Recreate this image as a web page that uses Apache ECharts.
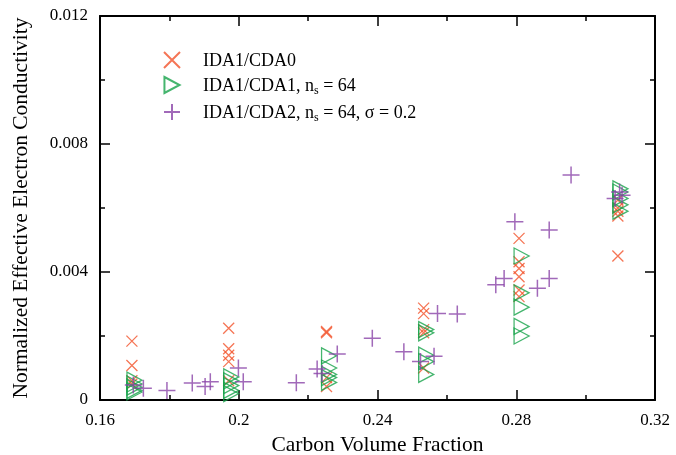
<!DOCTYPE html>
<html>
<head>
<meta charset="utf-8">
<script src="https://cdn.jsdelivr.net/npm/echarts@6/dist/echarts.min.js"></script>
<style>
  html, body { margin: 0; padding: 0; background: #fff; }
  #main { width: 676px; height: 455px; }
</style>
</head>
<body>
<div id="main"></div>
<script>
// series names as shown in the legend
var names = ['IDA1/CDA0', 'IDA1/CDA1, ns = 64', 'IDA1/CDA2, ns = 64, σ = 0.2'];

// IDA1/CDA0 (crosses)
var cda0X = [0.1692, 0.1692, 0.1692, 0.1692,
             0.1971, 0.1971, 0.1971, 0.1971, 0.1971,
             0.2253, 0.2253, 0.2253, 0.2253,
             0.2533, 0.2533, 0.2533, 0.2533, 0.2533,
             0.2808, 0.2808, 0.2808, 0.2808, 0.2808, 0.2808,
             0.3093, 0.3093, 0.3093, 0.3093, 0.3093];
var cda0Y = [0.00184, 0.00108, 0.0006, 0.0005,
             0.00224, 0.0016, 0.0014, 0.0012, 0.0006,
             0.00214, 0.0021, 0.0007, 0.00042,
             0.00287, 0.0027, 0.0022, 0.0021, 0.001,
             0.00505, 0.00432, 0.00411, 0.00385, 0.00344, 0.00323,
             0.00625, 0.006, 0.0059, 0.00575, 0.0045];

// IDA1/CDA1 (triangles)
var cda1X = [0.1692, 0.1692, 0.1692, 0.1692, 0.1692,
             0.1971, 0.1971, 0.1971, 0.1971, 0.1971,
             0.2253, 0.2253, 0.2253, 0.2253, 0.2253,
             0.2533, 0.2533, 0.2533, 0.2533, 0.2533,
             0.2808, 0.2808, 0.2808, 0.2808, 0.2808,
             0.3093, 0.3093, 0.3093, 0.3093, 0.3093];
var cda1Y = [0.00062, 0.0005, 0.0004, 0.0003, 0.00025,
             0.00072, 0.0006, 0.00045, 0.0003, 0.0002,
             0.00138, 0.001, 0.0008, 0.0007, 0.00055,
             0.0022, 0.0021, 0.0014, 0.0012, 0.0008,
             0.0045, 0.00335, 0.0029, 0.0023, 0.002,
             0.0066, 0.0065, 0.0063, 0.0061, 0.0059];

// IDA1/CDA2 (pluses)
var cda2X = [0.1696, 0.1725, 0.1793, 0.1866, 0.1903, 0.1918, 0.1999, 0.2013,
             0.2166, 0.2226, 0.224, 0.2284, 0.2385,
             0.2476, 0.2524, 0.2563, 0.2573, 0.263,
             0.2741, 0.2765, 0.2796, 0.2861, 0.2895, 0.2895, 0.2958,
             0.3085, 0.3098, 0.3105];
var cda2Y = [0.00047, 0.00037, 0.0003, 0.00053, 0.00042, 0.00057, 0.001, 0.00057,
             0.00054, 0.00097, 0.00083, 0.00144, 0.00193,
             0.00151, 0.0012, 0.00137, 0.0027, 0.00269,
             0.0036, 0.0038, 0.00557, 0.00349, 0.0038, 0.00531, 0.00703,
             0.0063, 0.0065, 0.0064];

var xTicks = [0.16, 0.2, 0.24, 0.28, 0.32];
var yTicks = [0, 0.004, 0.008, 0.012];

function zip(xs, ys) {
  var out = [];
  for (var i = 0; i < xs.length; i++) out.push([xs[i], ys[i]]);
  return out;
}

var font = '"Liberation Serif", "Times New Roman", serif';
var crossPath = 'path://M0,0L10,10M10,0L0,10';
var triPath = 'path://M0,0L10,5.3L0,10.6Z';
var plusPath = 'path://M5,0L5,10M0,5L10,5';

var myChart = echarts.init(document.getElementById('main'));

var axisCommon = {
  type: 'value',
  axisLine: { show: true, onZero: false, lineStyle: { color: '#000', width: 2 } },
  axisTick: { show: true, inside: true, length: 10, lineStyle: { color: '#000', width: 1.5 } },
  minorTick: { show: true, splitNumber: 2, length: 5, lineStyle: { color: '#000', width: 1.5 } },
  splitLine: { show: false },
  axisLabel: { color: '#000', fontFamily: font, fontSize: 17, margin: 12 }
};

var option = {
  backgroundColor: '#fff',
  animation: false,
  grid: { left: 100, right: 21, top: 16, bottom: 55, containLabel: false, outerBoundsMode: 'none' },
  legend: {
    orient: 'vertical',
    left: 158,
    top: 46,
    itemGap: 6,
    itemWidth: 16,
    itemHeight: 16,
    data: names,
    formatter: function (name) {
      if (name === names[1]) return 'IDA1/CDA1, n{sub|s} = 64';
      if (name === names[2]) return 'IDA1/CDA2, n{sub|s} = 64, σ = 0.2';
      return name;
    },
    textStyle: {
      color: '#000', fontFamily: font, fontSize: 18, padding: [2, 0, 0, 18],
      rich: {
        sub: { fontFamily: font, fontSize: 12, color: '#000', verticalAlign: 'bottom', padding: [10, 0, 0, 0] }
      }
    }
  },
  xAxis: [
    Object.assign({}, axisCommon, {
      min: 0.16, max: 0.32, interval: 0.04,
      position: 'bottom',
      name: 'Carbon Volume Fraction',
      nameLocation: 'middle',
      nameGap: 31,
      nameTextStyle: { color: '#000', fontFamily: font, fontSize: 21.5 },
      axisLabel: Object.assign({}, axisCommon.axisLabel, {
        formatter: function (v) { return String(+v.toFixed(2)); }
      })
    }),
    Object.assign({}, axisCommon, {
      min: 0.16, max: 0.32, interval: 0.04,
      position: 'top',
      axisLabel: { show: false }
    })
  ],
  yAxis: [
    Object.assign({}, axisCommon, {
      min: 0, max: 0.012, interval: 0.004,
      position: 'left',
      name: 'Normalized Effective Electron Conductivity',
      nameLocation: 'middle',
      nameGap: 68,
      nameTextStyle: { color: '#000', fontFamily: font, fontSize: 21.5 },
      axisLabel: Object.assign({}, axisCommon.axisLabel, {
        formatter: function (v) { return String(+v.toFixed(3)); }
      })
    }),
    Object.assign({}, axisCommon, {
      min: 0, max: 0.012, interval: 0.004,
      position: 'right',
      axisLabel: { show: false }
    })
  ],
  series: [
    {
      name: names[0],
      type: 'scatter',
      symbol: crossPath,
      symbolSize: 11,
      itemStyle: { color: 'transparent', borderColor: '#f2532a', borderWidth: 1.3 },
      data: zip(cda0X, cda0Y)
    },
    {
      name: names[1],
      type: 'scatter',
      symbol: triPath,
      symbolSize: [15, 16],
      symbolOffset: ['17%', 0],
      itemStyle: { color: 'transparent', borderColor: '#17a24a', borderWidth: 1.3 },
      data: zip(cda1X, cda1Y)
    },
    {
      name: names[2],
      type: 'scatter',
      symbol: plusPath,
      symbolSize: 17,
      itemStyle: { color: 'transparent', borderColor: '#8a44a8', borderWidth: 1.5 },
      data: zip(cda2X, cda2Y)
    }
  ]
};

myChart.setOption(option);
</script>
</body>
</html>
